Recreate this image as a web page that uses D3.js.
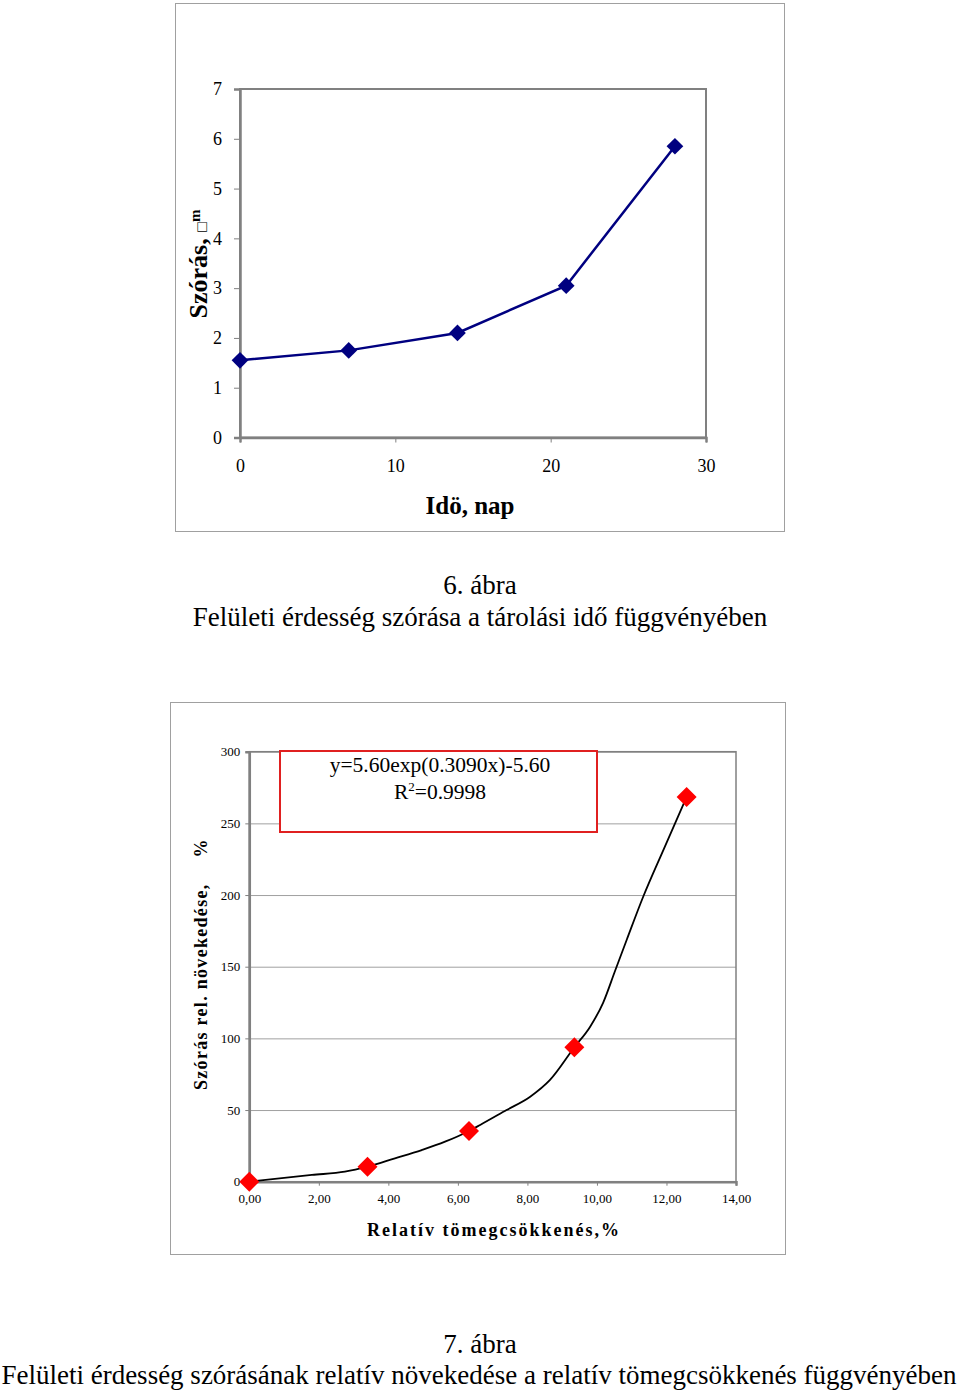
<!DOCTYPE html>
<html>
<head>
<meta charset="utf-8">
<script src="https://cdn.jsdelivr.net/npm/d3@7"></script>
<style>
  body { margin: 0; background: #fff; }
  svg text { font-family: "Liberation Serif", "Times New Roman", serif; }
</style>
</head>
<body>
<div id="chart"></div>
<script>
// chart 1 data (6. ábra)
var days = [0, 7, 14, 21, 28];
var szoras = [1.55, 1.75, 2.1, 3.05, 5.85];
var dayTicks = [0, 10, 20, 30];
var szorasTicks = [0, 1, 2, 3, 4, 5, 6, 7];

// chart 2 data (7. ábra)
var tomegcsokk = [0, 3.4, 6.32, 9.35, 12.58];
var novekedes = [0, 10.5, 35.4, 93.8, 268.4];
// fitted curve
var fitX = [0, 1.8, 2.75, 3.4, 4.19, 4.96, 5.63, 6.32, 6.64, 7.4, 8.08, 8.65, 9.35, 9.8, 10.18, 10.52, 10.86, 11.33, 11.91, 12.58];
var fitY = [0, 4.7, 7.0, 10.5, 16.3, 22.1, 27.9, 35.4, 39.6, 50, 59.3, 71, 93.8, 108, 125, 147, 169, 198.8, 231.4, 268.4];
var tomegTicks = [0, 2, 4, 6, 8, 10, 12, 14];
var novTicks = [0, 50, 100, 150, 200, 250, 300];

var svg = d3.select("#chart")
    .append("svg")
    .attr("width", 960)
    .attr("height", 1392);

var frameGray = "#808080";
var serif = "Liberation Serif";

function styleAxis(g, size) {
    g.attr("font-family", serif);
    g.select(".domain").attr("stroke", frameGray).attr("stroke-width", 2.5);
    g.selectAll(".tick line").attr("stroke", frameGray);
    g.selectAll(".tick text")
        .style("font-size", size)
        .style("font-family", serif)
        .attr("fill", "#000");
}

// ---------------- chart 1 ----------------
svg.append("rect")
    .attr("x", 175.5).attr("y", 3.5)
    .attr("width", 609).attr("height", 528)
    .attr("fill", "none").attr("stroke", "#a0a0a0");

var x1 = d3.scaleLinear().domain([0, 30]).range([240, 706]);
var y1 = d3.scaleLinear().domain([0, 7]).range([437.5, 89]);

// plot frame
svg.append("rect")
    .attr("x", x1(0)).attr("y", y1(7))
    .attr("width", x1(30) - x1(0)).attr("height", y1(0) - y1(7))
    .attr("fill", "none").attr("stroke", frameGray).attr("stroke-width", 2);

// Y axis
var yAx1 = svg.append("g")
    .attr("transform", "translate(" + x1(0) + ",0)")
    .call(d3.axisLeft(y1).tickValues(szorasTicks).tickSize(6).tickPadding(12).tickFormat(d3.format("d")));
styleAxis(yAx1, "18px");

// X axis
var xAx1 = svg.append("g")
    .attr("transform", "translate(0," + y1(0) + ")")
    .call(d3.axisBottom(x1).tickValues(dayTicks).tickSize(5).tickPadding(17));
styleAxis(xAx1, "18px");

// axis titles
svg.append("text")
    .attr("x", 470).attr("y", 514)
    .attr("text-anchor", "middle")
    .style("font-size", "25px").style("font-weight", "bold")
    .text("Idö, nap");

var yt1 = svg.append("text")
    .attr("transform", "translate(207,264) rotate(-90)")
    .attr("text-anchor", "middle")
    .style("font-size", "26px").style("font-weight", "bold");
yt1.append("tspan").text("Szórás, ");
yt1.append("tspan").style("font-size", "16px").style("font-weight", "normal").text("\u25A1");
yt1.append("tspan").style("font-size", "15px").attr("dy", -7).text("m");

// line + markers
var pts1 = days.map(function (d, i) { return [d, szoras[i]]; });
svg.append("path")
    .datum(pts1)
    .attr("fill", "none")
    .attr("stroke", "#000080")
    .attr("stroke-width", 2.5)
    .attr("d", d3.line()
        .x(function (d) { return x1(d[0]); })
        .y(function (d) { return y1(d[1]); }));

svg.selectAll(".dia1")
    .data(pts1)
    .enter()
    .append("path")
    .attr("d", d3.symbol().type(d3.symbolSquare).size(140))
    .attr("transform", function (d) { return "translate(" + x1(d[0]) + "," + y1(d[1]) + ") rotate(45)"; })
    .attr("fill", "#000080");

// caption 1
svg.append("text").attr("x", 480).attr("y", 594).attr("text-anchor", "middle")
    .style("font-size", "27px").text("6. ábra");
svg.append("text").attr("x", 480).attr("y", 626).attr("text-anchor", "middle")
    .style("font-size", "27px").text("Felületi érdesség szórása a tárolási idő függvényében");

// ---------------- chart 2 ----------------
svg.append("rect")
    .attr("x", 170.5).attr("y", 702.5)
    .attr("width", 615).attr("height", 552)
    .attr("fill", "none").attr("stroke", "#a0a0a0");

var x2 = d3.scaleLinear().domain([0, 14]).range([249.3, 736]);
var y2 = d3.scaleLinear().domain([0, 300]).range([1181.7, 751.7]);

// gridlines
svg.append("g")
    .attr("transform", "translate(" + x2(0) + ",0)")
    .attr("color", "#a0a0a0")
    .call(d3.axisLeft(y2).tickValues(novTicks).tickSize(-(x2(14) - x2(0))).tickFormat(""))
    .select(".domain").remove();

// frame
svg.append("rect")
    .attr("x", x2(0)).attr("y", y2(300))
    .attr("width", x2(14) - x2(0)).attr("height", y2(0) - y2(300))
    .attr("fill", "none").attr("stroke", frameGray).attr("stroke-width", 1.5);

var yAx2 = svg.append("g")
    .attr("transform", "translate(" + x2(0) + ",0)")
    .call(d3.axisLeft(y2).tickValues(novTicks).tickSize(4).tickPadding(5));
styleAxis(yAx2, "13px");

var xAx2 = svg.append("g")
    .attr("transform", "translate(0," + y2(0) + ")")
    .call(d3.axisBottom(x2).tickValues(tomegTicks).tickSize(4).tickPadding(8)
        .tickFormat(function (d) { return d3.format(".2f")(d).replace(".", ","); }));
styleAxis(xAx2, "13px");

// equation box
svg.append("rect")
    .attr("x", 280).attr("y", 751)
    .attr("width", 317).attr("height", 81)
    .attr("fill", "#fff").attr("stroke", "#e02020").attr("stroke-width", 2);
svg.append("text").attr("x", 440).attr("y", 772).attr("text-anchor", "middle")
    .style("font-size", "21.5px").text("y=5.60exp(0.3090x)-5.60");
var r2 = svg.append("text").attr("x", 440).attr("y", 799).attr("text-anchor", "middle")
    .style("font-size", "21.5px");
r2.append("tspan").text("R");
r2.append("tspan").attr("dy", -8).style("font-size", "13px").text("2");
r2.append("tspan").attr("dy", 8).text("=0.9998");

// fitted curve
var fit = fitX.map(function (d, i) { return [d, fitY[i]]; });
svg.append("path")
    .datum(fit)
    .attr("fill", "none")
    .attr("stroke", "#000")
    .attr("stroke-width", 1.8)
    .attr("d", d3.line()
        .curve(d3.curveMonotoneX)
        .x(function (d) { return x2(d[0]); })
        .y(function (d) { return y2(d[1]); }));

var pts2 = tomegcsokk.map(function (d, i) { return [d, novekedes[i]]; });
svg.selectAll(".dia2")
    .data(pts2)
    .enter()
    .append("path")
    .attr("d", d3.symbol().type(d3.symbolSquare).size(200))
    .attr("transform", function (d) { return "translate(" + x2(d[0]) + "," + y2(d[1]) + ") rotate(45)"; })
    .attr("fill", "#ff0000");

// axis titles
svg.append("text")
    .attr("x", 494).attr("y", 1236)
    .attr("text-anchor", "middle")
    .style("font-size", "18px").style("font-weight", "bold")
    .style("letter-spacing", "2px")
    .text("Relatív tömegcsökkenés,%");

var yt2 = svg.append("text")
    .attr("transform", "translate(207,1090) rotate(-90)")
    .attr("text-anchor", "start")
    .style("font-size", "18px").style("font-weight", "bold")
    .style("letter-spacing", "1.3px");
yt2.append("tspan").text("Szórás rel. növekedése,");
yt2.append("tspan").attr("dx", 26).text("%");

// caption 2
svg.append("text").attr("x", 480).attr("y", 1353).attr("text-anchor", "middle")
    .style("font-size", "27px").text("7. ábra");
svg.append("text").attr("x", 479).attr("y", 1384).attr("text-anchor", "middle")
    .style("font-size", "27px")
    .text("Felületi érdesség szórásának relatív növekedése a relatív tömegcsökkenés függvényében");
</script>
</body>
</html>
